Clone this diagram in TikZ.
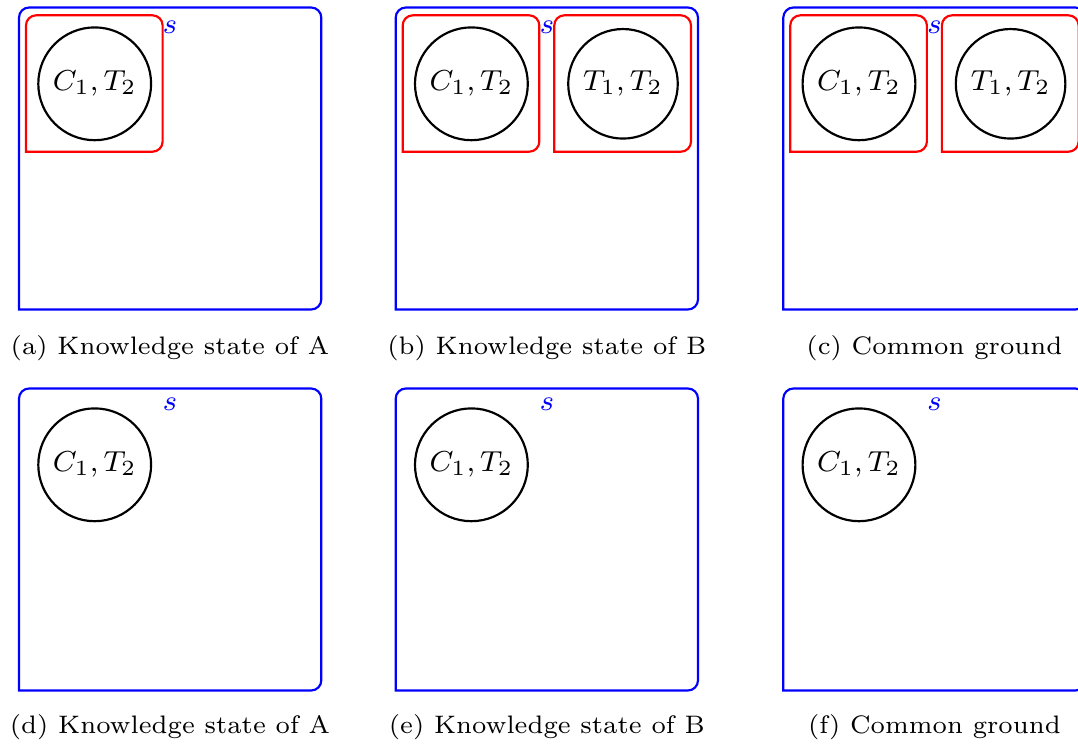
\documentclass[tikz,border=0pt]{standalone}
\begin{document}
\begin{tikzpicture}[x=0.2766pt,y=-0.2766pt,
  outerbox/.style={draw=blue,line width=0.6pt,rounded corners=2.8pt,line cap=rect},
  innerbox/.style={draw=red,line width=0.6pt,rounded corners=2.8pt,line cap=rect},
  ballC/.style={circle,draw=black,line width=0.6pt,minimum size=31.2pt,inner sep=0pt,font=\fontsize{8}{9.6}\selectfont},
  ballT/.style={circle,draw=black,line width=0.6pt,minimum size=30.3pt,inner sep=0pt,font=\fontsize{8}{9.6}\selectfont},
  slabel/.style={text=blue,inner sep=0pt,font=\fontsize{8}{9.6}\selectfont},
  caption/.style={anchor=base,inner sep=0pt,font=\fontsize{7}{8.4}\selectfont}]
\useasboundingbox (0,0) rectangle (1078,744);
\newcommand\kbox[5]{\draw[#1] (#2,#5) -- (#2,#3) -- (#4,#3) -- (#4,#5) -- (#2,#5);}
% ---------- top row ----------
% (a)
\kbox{outerbox}{19}{7.5}{321.3}{309.5}
\kbox{innerbox}{26}{15.3}{162.6}{151.7}
\node[ballC] (a1) at (94.7,83.8) {$C_1,T_2$};
\node[slabel] (as) at (170,27) {$s$};
\node[caption] (acap) at (170,354) {(a) Knowledge state of A};
% (b)
\kbox{outerbox}{395.7}{7.5}{698}{309.5}
\kbox{innerbox}{402.7}{15.3}{539.3}{151.7}
\kbox{innerbox}{554.3}{15.3}{691}{151.7}
\node[ballC] (b1) at (471.4,83.8) {$C_1,T_2$};
\node[ballT] (b2) at (623,83.8) {$T_1,T_2$};
\node[slabel] (bs) at (546.9,27) {$s$};
\node[caption] (bcap) at (546.9,354) {(b) Knowledge state of B};
% (c)
\kbox{outerbox}{783.3}{7.5}{1085.6}{309.5}
\kbox{innerbox}{790.3}{15.3}{926.9}{151.7}
\kbox{innerbox}{941.9}{15.3}{1078.6}{151.7}
\node[ballC] (c1) at (859,83.8) {$C_1,T_2$};
\node[ballT] (c2) at (1010.6,83.8) {$T_1,T_2$};
\node[slabel] (cs) at (934.4,27) {$s$};
\node[caption] (ccap) at (934.4,354) {(c) Common ground};
% ---------- bottom row ----------
% (d)
\kbox{outerbox}{19}{388.5}{321.3}{690.5}
\node[ballC] (d1) at (94.7,464.8) {$C_1,T_2$};
\node[slabel] (ds) at (170,404.7) {$s$};
\node[caption] (dcap) at (170,733.5) {(d) Knowledge state of A};
% (e)
\kbox{outerbox}{395.7}{388.5}{698}{690.5}
\node[ballC] (e1) at (471.4,464.8) {$C_1,T_2$};
\node[slabel] (es) at (546.9,404.7) {$s$};
\node[caption] (ecap) at (546.9,733.5) {(e) Knowledge state of B};
% (f)
\kbox{outerbox}{783.3}{388.5}{1085.6}{690.5}
\node[ballC] (f1) at (859,464.8) {$C_1,T_2$};
\node[slabel] (fs) at (934.4,404.7) {$s$};
\node[caption] (fcap) at (934.4,733.5) {(f) Common ground};
\end{tikzpicture}
\end{document}
